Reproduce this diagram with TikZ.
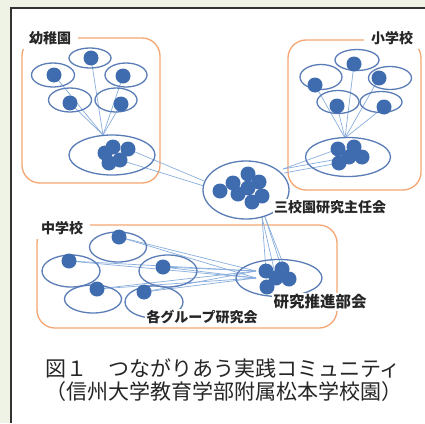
\documentclass[tikz,border=0pt]{standalone}
\usepackage{fontspec}
\newfontfamily\jp{Noto Sans CJK JP}
\usetikzlibrary{shapes.geometric,backgrounds}
\definecolor{pagebg}{HTML}{EEF3E5}
\definecolor{boxor}{HTML}{F5A673}
\definecolor{ellb}{HTML}{5A7DB8}
\definecolor{dotb}{HTML}{3F6CAE}
\definecolor{lineb}{HTML}{88AEDD}
\tikzset{
  dotn/.style={circle,fill=dotb,inner sep=0pt,minimum size=15pt},
  elln/.style={ellipse,draw=ellb,line width=1.3pt,inner sep=0pt},
  conn/.style={draw=lineb,line width=0.7pt},
  grpbox/.style={draw=boxor,line width=1.3pt,rounded corners=18pt},
  lab/.style={font=\jp\bfseries\fontsize{14}{16}\selectfont,fill=white,inner sep=1.5pt,text=black!85},
  cornerlab/.style={lab,inner xsep=7pt,inner ysep=4pt},
  captext/.style={font=\jp\fontsize{21}{24}\selectfont,text=black!85,inner sep=0pt},
}
\begin{document}
\begin{tikzpicture}[x=1pt,y=-1pt]
\useasboundingbox (0,0) rectangle (425,423);
\begin{scope}[on background layer]
  \fill[pagebg] (0,0) rectangle (425,423);
  \fill[white] (11,8) rectangle (425,423);
  \draw[black!80,line width=1.2pt] (11,423) -- (11,8) -- (425,8);
  \draw[grpbox] (22,38) rectangle (160,183);
  \draw[grpbox] (288,40) rectangle (421,190);
  \draw[grpbox] (37,225) rectangle (337,328);
\end{scope}

% ---------- kindergarten ----------
\node[elln,minimum width=42pt,minimum height=20pt] (KE1) at (90,58) {};
\node[elln,minimum width=43pt,minimum height=24pt] (KE2) at (53,75) {};
\node[elln,minimum width=42pt,minimum height=24pt] (KE3) at (126,75) {};
\node[elln,minimum width=43pt,minimum height=24pt] (KE4) at (70,100) {};
\node[elln,minimum width=42pt,minimum height=24pt] (KE5) at (116,100) {};
\node[elln,minimum width=86pt,minimum height=40pt] (KB) at (112,155) {};
\node[dotn] (k1) at (91,58) {};
\node[dotn] (k2) at (54,75) {};
\node[dotn] (k3) at (123,76) {};
\node[dotn] (k4) at (70,103) {};
\node[dotn] (k5) at (121,104) {};
\coordinate (kc) at (103,135);
\node[dotn] (kb1) at (105,153) {};
\node[dotn] (kb2) at (113,147) {};
\node[dotn] (kb3) at (128,149) {};
\node[dotn] (kb4) at (120,160) {};
\node[dotn] (kb5) at (109,163) {};

% ---------- elementary ----------
\node[elln,minimum width=44pt,minimum height=21pt] (EE1) at (357,60) {};
\node[elln,minimum width=42pt,minimum height=25pt] (EE2) at (321,77) {};
\node[elln,minimum width=43pt,minimum height=23pt] (EE3) at (390,78) {};
\node[elln,minimum width=42pt,minimum height=23pt] (EE4) at (338,102) {};
\node[elln,minimum width=42pt,minimum height=21pt] (EE5) at (381,102) {};
\node[elln,minimum width=85pt,minimum height=39pt] (EB) at (348,157) {};
\node[dotn] (e1) at (354,64) {};
\node[dotn] (e2) at (315,85) {};
\node[dotn] (e3) at (379,78) {};
\node[dotn] (e4) at (337,106) {};
\node[dotn] (e5) at (384,107) {};
\coordinate (ec) at (345,138);
\node[dotn] (eb1) at (338,149) {};
\node[dotn] (eb2) at (354,147) {};
\node[dotn] (eb3) at (349,157) {};
\node[dotn] (eb4) at (362,157) {};
\node[dotn] (eb5) at (339,163) {};

% ---------- three-school committee ----------
\node[elln,minimum width=86pt,minimum height=58pt] (SB) at (246,190) {};
\node[dotn] (s1) at (220,191) {};
\node[dotn] (s2) at (233,183) {};
\node[dotn] (s3) at (248,174) {};
\node[dotn] (s4) at (259,182) {};
\node[dotn] (s5) at (238,194) {};
\node[dotn] (s6) at (248,188) {};
\node[dotn] (s7) at (252,202) {};
\node[dotn] (s8) at (262,196) {};
\coordinate (sl1) at (204,181);
\coordinate (sl2) at (204,186);
\coordinate (sr1) at (283,169);
\coordinate (sr2) at (284,173);
\coordinate (sb1) at (262,217);
\coordinate (sb2) at (265,217);

% ---------- junior high ----------
\node[elln,minimum width=57pt,minimum height=30pt] (JE1) at (118,247) {};
\node[elln,minimum width=58pt,minimum height=32pt] (JE2) at (71,271) {};
\node[elln,minimum width=58pt,minimum height=32pt] (JE3) at (168,271) {};
\node[elln,minimum width=57pt,minimum height=28pt] (JE4) at (93,299) {};
\node[elln,minimum width=58pt,minimum height=32pt] (JE5) at (154,302) {};
\node[elln,minimum width=86pt,minimum height=37pt] (JB) at (279,278) {};
\node[dotn] (j1) at (119,237) {};
\node[dotn] (j2) at (69,261) {};
\node[dotn] (j3) at (163,267) {};
\node[dotn] (j4) at (97,289) {};
\node[dotn] (j5) at (144,292) {};
\coordinate (jc1) at (256,271);
\coordinate (jc2) at (256,278);
\node[dotn] (jb1) at (266,271) {};
\node[dotn] (jb2) at (282,269) {};
\node[dotn] (jb3) at (276,278) {};
\node[dotn] (jb4) at (289,279) {};
\node[dotn] (jb5) at (267,287) {};

% ---------- connectors ----------
\begin{scope}[on background layer]
  \foreach \n in {k1,k2,k3,k4,k5} \draw[conn] (\n.center) -- (kc);
  \foreach \n in {e1,e2,e3,e4,e5} \draw[conn] (\n.center) -- (ec);
  \draw[conn] (kb3.center) -- (sl1);
  \draw[conn] (kb4.center) -- (sl2);
  \draw[conn] (eb1.center) -- (sr1);
  \draw[conn] (eb3.center) -- (sr1);
  \draw[conn] (eb5.center) -- (sr2);
  \draw[conn] (sb1) -- (jb1.center);
  \draw[conn] (sb1) -- (jb3.center);
  \draw[conn] (sb2) -- (jb2.center);
  \draw[conn] (sb2) -- (jb4.center);
  \foreach \n in {j1,j2,j3,j4,j5} {
    \draw[conn] (\n.center) -- (jc1);
    \draw[conn] (\n.center) -- (jc2);
  }
\end{scope}

% ---------- labels ----------
\node[cornerlab] (lk) at (50,38) {幼稚園};
\node[cornerlab] (le) at (392,38) {小学校};
\node[cornerlab] (lj) at (62,228) {中学校};
\node[lab] (ls) at (330,207) {三校園研究主任会};
\node[lab,font=\jp\bfseries\fontsize{15.5}{17}\selectfont] (lp) at (320,302) {研究推進部会};
\node[lab] (lg) at (202,317) {各グループ研究会};

\node[captext] (c1) at (223,368) {図１　つながりあう実践コミュニティ};
\node[captext] (c2) at (224,392) {（信州大学教育学部附属松本学校園）};
\end{tikzpicture}
\end{document}
